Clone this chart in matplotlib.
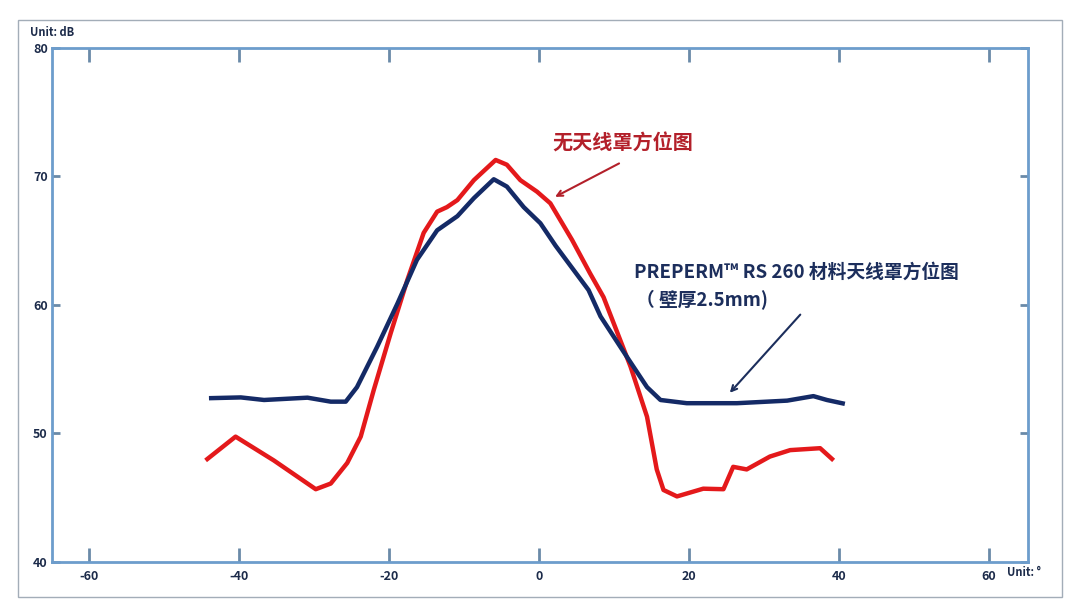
import matplotlib.pyplot as plt
from matplotlib.patches import Rectangle

plt.rcParams['font.family'] = ['Noto Sans CJK SC', 'DejaVu Sans']
plt.rcParams['axes.unicode_minus'] = False

# 无天线罩 (red)
x_red = [-44.5, -40.5, -35.4, -29.8, -27.8, -25.6, -23.8, -22.05, -19.8, -17.6,
         -15.4, -13.6, -12.3, -10.9, -8.7, -5.8, -4.3, -2.5, -0.27, 1.5,
         4.4, 6.8, 8.6, 12.2, 14.4, 15.7, 16.6, 18.4, 21.9, 24.6,
         25.9, 27.7, 30.8, 33.5, 37.5, 39.3]
y_red = [47.9, 49.75, 47.9, 45.66, 46.1, 47.7, 49.75, 53.4, 57.8, 61.9,
         65.6, 67.25, 67.6, 68.15, 69.7, 71.27, 70.9, 69.7, 68.8, 67.9,
         65.05, 62.45, 60.6, 55.2, 51.3, 47.2, 45.6, 45.1, 45.7, 45.66,
         47.4, 47.2, 48.2, 48.7, 48.85, 47.9]

# PREPERM RS 260 天线罩 (blue)
x_blue = [-44.05, -39.8, -36.7, -30.9, -27.8, -25.8, -24.3, -21.6, -18.9, -16.3,
          -13.6, -10.9, -8.7, -6.05, -4.3, -2.05, 0.17, 2.2, 6.6, 8.2,
          11.7, 14.4, 16.2, 19.7, 26.4, 33.1, 36.6, 38.4, 40.8]
y_blue = [52.74, 52.8, 52.6, 52.78, 52.47, 52.47, 53.6, 56.75, 60.1, 63.5,
          65.8, 66.9, 68.3, 69.77, 69.2, 67.6, 66.35, 64.6, 61.15, 59.1,
          55.97, 53.6, 52.6, 52.35, 52.35, 52.55, 52.9, 52.6, 52.3]

x_ticks = [-60, -40, -20, 0, 20, 40, 60]
y_ticks = [40, 50, 60, 70, 80]

spine_c = '#6d9dcc'
tick_c = '#6a8aa8'
label_c = '#1c2b4a'

fig = plt.figure(figsize=(10.8, 6.08), dpi=100)
fig.patches.append(Rectangle((0.0167, 0.0181), 0.9667, 0.949, transform=fig.transFigure,
                             fill=False, edgecolor='#a3adb8', linewidth=1.0))
ax = fig.add_axes([0.0481, 0.0757, 0.9035, 0.8458])

ax.plot(x_blue, y_blue, color='#142a66', linewidth=3.2, solid_capstyle='butt',
        solid_joinstyle='round', zorder=3)
ax.plot(x_red, y_red, color='#e4191b', linewidth=3.2, solid_capstyle='butt',
        solid_joinstyle='round', zorder=2)

ax.set_xlim(-65, 65.2)
ax.set_ylim(40, 80)
ax.set_xticks(x_ticks)
ax.set_yticks(y_ticks)
for s in ax.spines.values():
    s.set_color(spine_c)
    s.set_linewidth(2)
ax.tick_params(axis='x', direction='in', length=10, width=2, color=tick_c,
               top=True, pad=6, labelsize=9, labelcolor=label_c)
ax.tick_params(axis='y', direction='in', length=6, width=2, color=tick_c,
               right=True, pad=3, labelsize=9, labelcolor=label_c)
for lab in ax.get_xticklabels() + ax.get_yticklabels():
    lab.set_fontweight('bold')

fig.text(0.028, 0.947, 'Unit: dB', fontsize=8, fontweight='bold', color=label_c, va='center')
fig.text(0.932, 0.059, 'Unit: °', fontsize=8, fontweight='bold', color=label_c, va='center')

ax.annotate('', xy=(1.8, 68.3), xytext=(11.0, 71.1),
            arrowprops=dict(arrowstyle='->', color='#b3202a', lw=1.5))
ax.text(1.8, 72.6, '无天线罩方位图', fontsize=14.5, fontweight='bold', color='#b3202a', va='center')

ax.annotate('', xy=(25.2, 53.0), xytext=(35.1, 59.4),
            arrowprops=dict(arrowstyle='->', color='#1c2e5c', lw=1.5))
ax.text(12.7, 62.5, 'PREPERM™ RS 260 材料天线罩方位图', fontsize=13.5, fontweight='bold',
        color='#1c2e5c', va='center')
ax.text(12.9, 60.4, '（ 壁厚2.5mm)', fontsize=13.5, fontweight='bold',
        color='#1c2e5c', va='center')

fig.savefig('out.png', dpi=100)
